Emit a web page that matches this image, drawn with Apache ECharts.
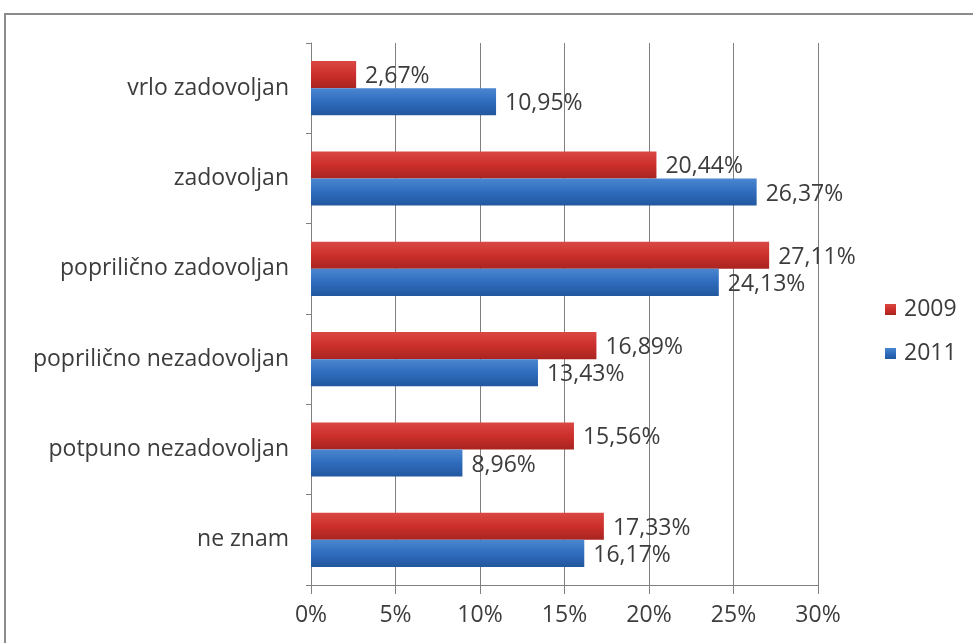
<!DOCTYPE html>
<html><head><meta charset="utf-8">
<script src="https://cdn.jsdelivr.net/npm/echarts@6/dist/echarts.min.js"></script>
<style>html,body{margin:0;padding:0;background:#fff}#c{width:973px;height:643px}</style>
</head><body><div id="c"></div>
<script>
var categories = ['vrlo zadovoljan','zadovoljan','poprilično zadovoljan','poprilično nezadovoljan','potpuno nezadovoljan','ne znam'];
var seriesNames = ['2009','2011'];
var values2009 = [2.67, 20.44, 27.11, 16.89, 15.56, 17.33];
var values2011 = [10.95, 26.37, 24.13, 13.43, 8.96, 16.17];
var xTicks = [0,5,10,15,20,25,30];

var FONT = '"Open Sans","Noto Sans",sans-serif';
function grad(top, mid, bot){
  return new echarts.graphic.LinearGradient(0,0,0,1,[{offset:0,color:top},{offset:0.5,color:mid},{offset:1,color:bot}]);
}
var chart = echarts.init(document.getElementById('c'), null, {renderer:'canvas'});
var lbl = {show:true, position:'right', distance:9, color:'#3c3c3c', fontSize:23, fontFamily:FONT, offset:[0,2],
  formatter:function(p){return p.value.toFixed(2).replace('.',',')+'%';}};
chart.setOption({
  animation:false,
  graphic:[{type:'rect', shape:{x:5,y:14,width:980,height:650}, style:{fill:'none',stroke:'#8c8c8c',lineWidth:2}}],
  grid:{left:311,right:155,top:43,bottom:58,containLabel:false},
  legend:{orient:'vertical', left:880, top:293, itemWidth:11, itemHeight:11, itemGap:21, icon:'rect',
    textStyle:{fontSize:23,color:'#3c3c3c',fontFamily:FONT,padding:[0,0,0,3]}, data:seriesNames},
  xAxis:{type:'value', min:0, max:30, interval:5,
    axisLine:{show:true,lineStyle:{color:'#808080'}},
    axisTick:{show:true,length:9,lineStyle:{color:'#808080'}},
    axisLabel:{formatter:function(v){return xTicks.indexOf(v)>=0? v+'%':'';}, fontSize:23, color:'#3c3c3c', fontFamily:FONT, margin:19},
    splitLine:{show:true,lineStyle:{color:'#7f7f7f',width:1}}},
  yAxis:{type:'category', data:categories, inverse:true,
    axisLine:{show:true,lineStyle:{color:'#808080'}},
    axisTick:{show:true,length:5,lineStyle:{color:'#808080'}},
    axisLabel:{fontSize:23,color:'#3c3c3c',fontFamily:FONT,margin:22}},
  series:[
    {name:'2009', type:'bar', data:values2009, barGap:'0%', barCategoryGap:'40%',
     itemStyle:{color:grad('#da4844','#cc2f2b','#a82420')}, label:lbl},
    {name:'2011', type:'bar', data:values2011,
     itemStyle:{color:grad('#4a86d0','#2f6cbd','#22579e')}, label:lbl}
  ]
});
</script></body></html>
